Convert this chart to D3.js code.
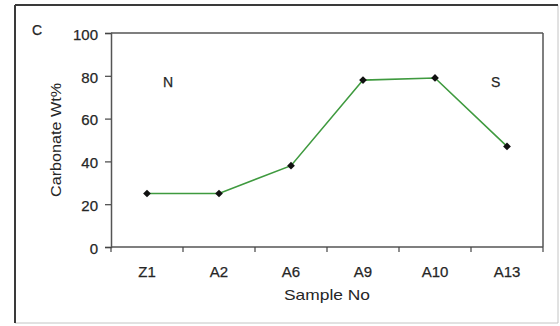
<!DOCTYPE html>
<html>
<head>
<meta charset="utf-8">
<script src="https://cdn.jsdelivr.net/npm/d3@7"></script>
<style>
  html, body { margin: 0; padding: 0; background: #fff; }
  svg { display: block; }
  text { font-family: "Liberation Sans", Arial, sans-serif; }
</style>
</head>
<body>
<svg id="chart" width="560" height="326"></svg>
<script>
const samples = ["Z1", "A2", "A6", "A9", "A10", "A13"];
const carbonate = [25, 25, 38, 78, 79, 47];
const yTicks = [0, 20, 40, 60, 80, 100];
const panelLabel = "C";
const northLabel = "N";
const southLabel = "S";
const xTitle = "Sample No";
const yTitle = "Carbonate Wt%";

(function () {
const svg = d3.select("#chart");
const W = 560, H = 326;
const ink = "#262626";
svg.append("rect").attr("width", W).attr("height", H).attr("fill", "#fff");

// outer border
svg.append("line").attr("x1", 558).attr("y1", 5).attr("x2", 558).attr("y2", 323).attr("stroke", "#c4c4c4").attr("stroke-width", 1);
svg.append("line").attr("x1", 15).attr("y1", 323).attr("x2", 558).attr("y2", 323).attr("stroke", "#c4c4c4").attr("stroke-width", 1);
svg.append("line").attr("x1", 15).attr("y1", 5).attr("x2", 15).attr("y2", 323).attr("stroke", "#3a3a3a").attr("stroke-width", 2);
svg.append("line").attr("x1", 15).attr("y1", 5).attr("x2", 558).attr("y2", 5).attr("stroke", "#3a3a3a").attr("stroke-width", 2);

const pLeft = 111, pRight = 543, pTop = 33, pBottom = 247;

const x = d3.scaleBand().domain(samples).range([pLeft, pRight]).padding(0);
const y = d3.scaleLinear().domain([0, 100]).range([pBottom, pTop]);

// plot frame (top and right)
svg.append("line").attr("x1", pLeft).attr("y1", pTop).attr("x2", pRight).attr("y2", pTop).attr("stroke", "#555").attr("stroke-width", 1.5);
svg.append("line").attr("x1", pRight).attr("y1", pTop).attr("x2", pRight).attr("y2", pBottom).attr("stroke", "#555").attr("stroke-width", 1.5);

// y axis
const yAxis = svg.append("g").attr("transform", `translate(${pLeft},0)`)
  .call(d3.axisLeft(y).tickValues(yTicks).tickSize(6).tickPadding(7).tickFormat(d3.format("d")));
yAxis.select(".domain").attr("stroke", "#555").attr("stroke-width", 1.5);
yAxis.selectAll(".tick line").attr("stroke", "#444").attr("stroke-width", 1.2);
yAxis.selectAll("text").attr("font-size", 15).attr("fill", ink).attr("dy", "0.42em")
  .attr("stroke", ink).attr("stroke-width", 0.25)
  .style("font-family", '"Liberation Sans", Arial, sans-serif');

// x axis with ticks at band boundaries
const xAxisG = svg.append("g").attr("transform", `translate(0,${pBottom})`);
xAxisG.append("line").attr("x1", pLeft).attr("x2", pRight).attr("y1", 0).attr("y2", 0)
  .attr("stroke", "#555").attr("stroke-width", 1.5);
const boundaries = samples.map(s => x(s)).concat([x(samples[samples.length - 1]) + x.bandwidth()]);
xAxisG.selectAll(".btick").data(boundaries).join("line")
  .attr("x1", d => d).attr("x2", d => d).attr("y1", 0).attr("y2", 5)
  .attr("stroke", "#444").attr("stroke-width", 1.2);
xAxisG.selectAll(".xlab").data(samples).join("text")
  .attr("x", d => x(d) + x.bandwidth() / 2)
  .attr("y", 30)
  .attr("text-anchor", "middle")
  .attr("font-size", 15)
  .attr("fill", ink)
  .attr("stroke", ink).attr("stroke-width", 0.25)
  .text(d => d);

// line
const line = d3.line()
  .x((d, i) => x(samples[i]) + x.bandwidth() / 2)
  .y(d => y(d));
svg.append("path").datum(carbonate)
  .attr("d", line)
  .attr("fill", "none")
  .attr("stroke", "#3f9a3f")
  .attr("stroke-width", 1.6);

// markers (diamonds)
const sym = d3.symbol().type(d3.symbolSquare).size(30);
svg.selectAll(".pt").data(carbonate).join("path")
  .attr("transform", (d, i) => `translate(${x(samples[i]) + x.bandwidth() / 2},${y(d)}) rotate(45)`)
  .attr("d", sym)
  .attr("fill", "#111");

// labels
svg.append("text").attr("x", 32).attr("y", 35).attr("font-size", 14).attr("fill", ink).attr("stroke", ink).attr("stroke-width", 0.25).text(panelLabel);
svg.append("text").attr("x", 163).attr("y", 87).attr("font-size", 14).attr("fill", ink).attr("stroke", ink).attr("stroke-width", 0.25).text(northLabel);
svg.append("text").attr("x", 491).attr("y", 87).attr("font-size", 14).attr("fill", ink).attr("stroke", ink).attr("stroke-width", 0.25).text(southLabel);

// axis titles
svg.append("text")
  .attr("x", 327).attr("y", 300)
  .attr("text-anchor", "middle")
  .attr("font-size", 15)
  .attr("fill", ink)
  .attr("textLength", 86)
  .attr("lengthAdjust", "spacingAndGlyphs")
  .text(xTitle);
svg.append("text")
  .attr("transform", "translate(61,140) rotate(-90)")
  .attr("text-anchor", "middle")
  .attr("font-size", 15)
  .attr("fill", ink)
  .attr("textLength", 114)
  .attr("lengthAdjust", "spacingAndGlyphs")
  .text(yTitle);
})();
</script>
</body>
</html>
